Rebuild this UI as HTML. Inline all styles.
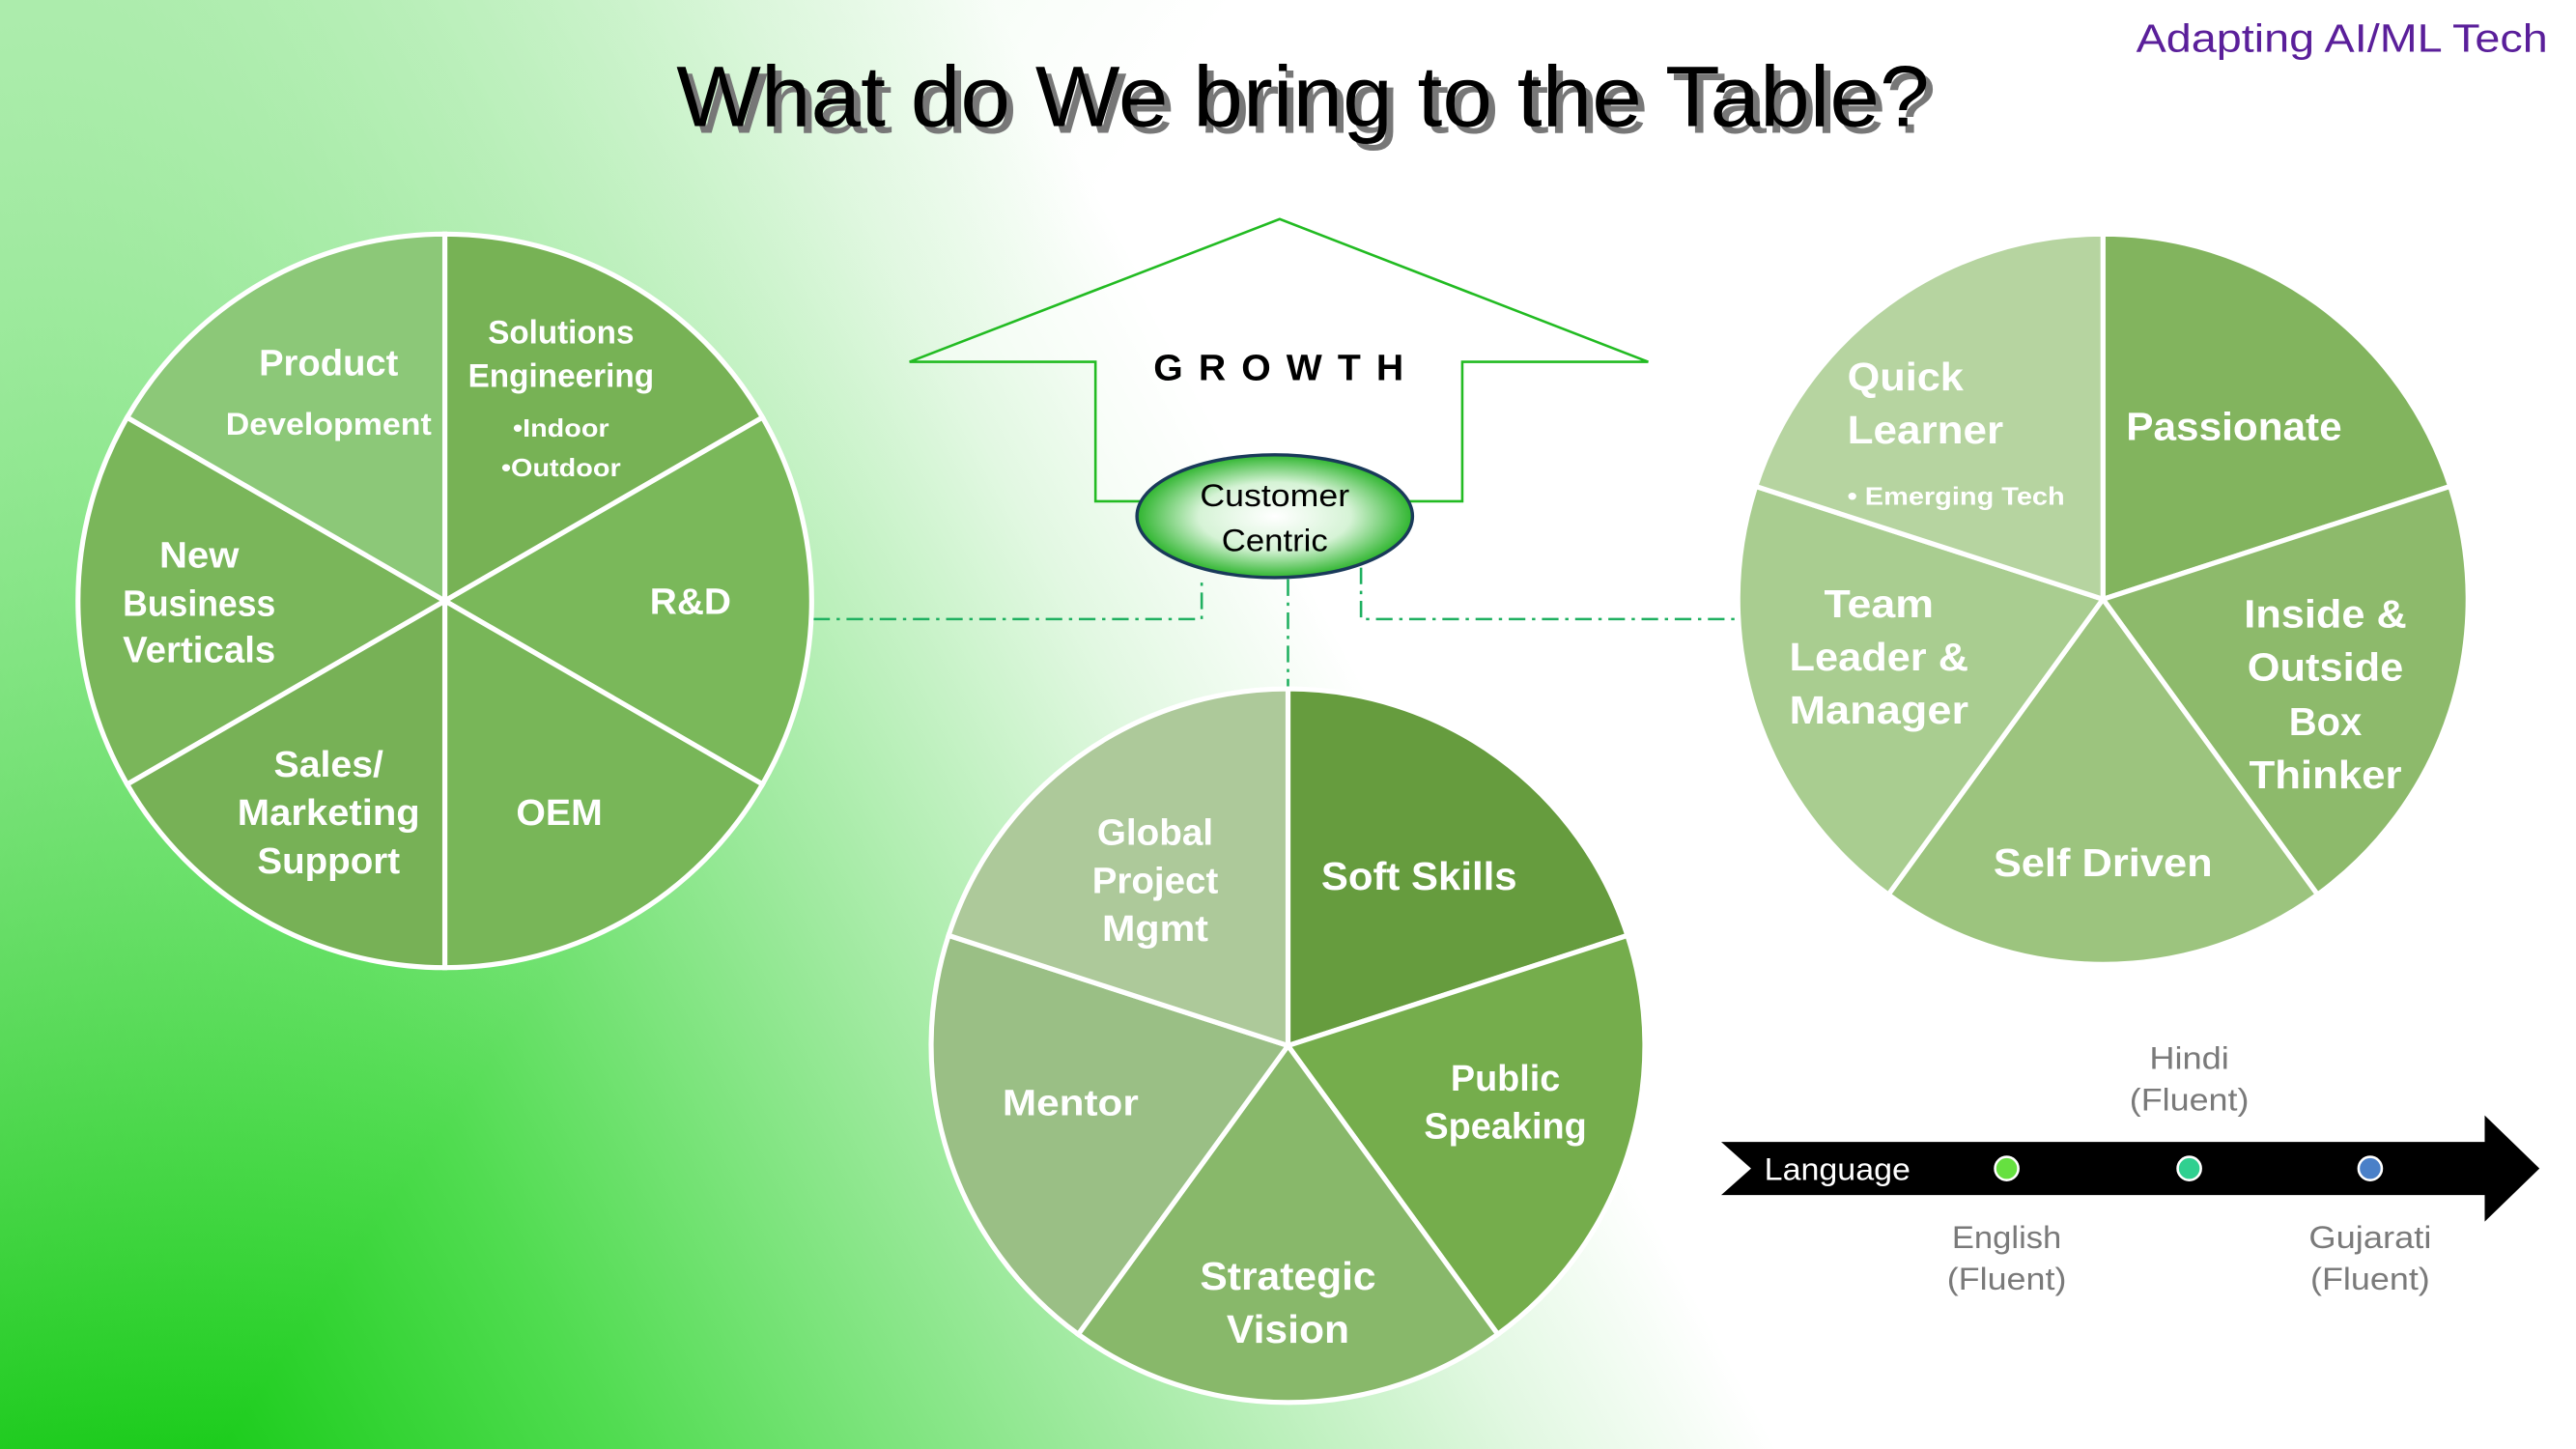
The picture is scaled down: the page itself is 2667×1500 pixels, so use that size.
<!DOCTYPE html>
<html><head><meta charset="utf-8"><style>
html,body{margin:0;padding:0;width:2667px;height:1500px;overflow:hidden}
svg{display:block}
text{font-family:"Liberation Sans",sans-serif}
</style></head><body>
<svg width="2667" height="1500" viewBox="0 0 1552 873" preserveAspectRatio="none" xmlns="http://www.w3.org/2000/svg">
<defs>
<linearGradient id="bg" gradientUnits="userSpaceOnUse" x1="0" y1="873" x2="1150" y2="250">
<stop offset="0" stop-color="#00c400"/>
<stop offset="0.25" stop-color="#50dc50"/>
<stop offset="0.45" stop-color="#a0eaa0"/>
<stop offset="0.62" stop-color="#e2f8e2"/>
<stop offset="0.72" stop-color="#ffffff"/>
<stop offset="1" stop-color="#ffffff"/>
</linearGradient>
<linearGradient id="bg2" gradientUnits="userSpaceOnUse" x1="0" y1="0" x2="500" y2="350">
<stop offset="0" stop-color="#b8eeb8" stop-opacity="0.85"/>
<stop offset="1" stop-color="#d8f6d8" stop-opacity="0"/>
</linearGradient>
<radialGradient id="el" cx="0.5" cy="0.5" r="0.5">
<stop offset="0" stop-color="#ffffff"/>
<stop offset="0.55" stop-color="#d6f3d6"/>
<stop offset="1" stop-color="#2fb52f"/>
</radialGradient>
</defs>
<rect width="1552" height="873" fill="url(#bg)"/>
<rect width="1552" height="873" fill="url(#bg2)"/>

<text x="1535" y="31" text-anchor="end" font-size="24" fill="#5a1f9a" textLength="248" lengthAdjust="spacingAndGlyphs">Adapting AI/ML Tech</text>
<text x="787" y="78" text-anchor="middle" font-size="52" fill="#777" textLength="755" lengthAdjust="spacingAndGlyphs" dx="2" dy="2">What do We bring to the Table?</text>
<text x="785" y="76" text-anchor="middle" font-size="52" fill="#000" textLength="755" lengthAdjust="spacingAndGlyphs">What do We bring to the Table?</text>

<!-- arrow -->
<polygon points="548,218 771,132 993,218 881,218 881,302 660,302 660,218" fill="#ffffff" fill-opacity="0.5" stroke="#22bb22" stroke-width="1.5"/>
<text x="775" y="229" text-anchor="middle" font-size="22" font-weight="bold" fill="#000" letter-spacing="9" textLength="160" lengthAdjust="spacingAndGlyphs">GROWTH</text>

<!-- connectors -->
<g stroke="#1fb060" stroke-width="1.5" fill="none" stroke-dasharray="10,4,2,4">
<polyline points="490,373 724,373 724,349"/>
<polyline points="776,349 776,414"/>
<polyline points="820,342 820,373 1045,373"/>
</g>

<ellipse cx="768" cy="311" rx="83" ry="37" fill="url(#el)" stroke="#1a3a5a" stroke-width="2"/>
<text x="768" y="305" text-anchor="middle" font-size="19" fill="#000" textLength="90" lengthAdjust="spacingAndGlyphs">Customer</text>
<text x="768" y="332" text-anchor="middle" font-size="19" fill="#000" textLength="64" lengthAdjust="spacingAndGlyphs">Centric</text>

<!-- left pie -->
<g stroke="#fff" stroke-width="3">
<path d="M268,362 L268,141 A221,221 0 0 1 459.4,251.5 Z" fill="#77b255"/>
<path d="M268,362 L459.4,251.5 A221,221 0 0 1 459.4,472.5 Z" fill="#7ab85a"/>
<path d="M268,362 L459.4,472.5 A221,221 0 0 1 268,583 Z" fill="#78b658"/>
<path d="M268,362 L268,583 A221,221 0 0 1 76.6,472.5 Z" fill="#77b156"/>
<path d="M268,362 L76.6,472.5 A221,221 0 0 1 76.6,251.5 Z" fill="#7ab65a"/>
<path d="M268,362 L76.6,251.5 A221,221 0 0 1 268,141 Z" fill="#8cc878"/>
</g>
<g fill="#fff" font-weight="bold" text-anchor="middle">
<text x="198" y="226" font-size="22" textLength="84" lengthAdjust="spacingAndGlyphs">Product</text>
<text x="198" y="262" font-size="19" textLength="124" lengthAdjust="spacingAndGlyphs">Development</text>
<text x="338" y="207" font-size="20" textLength="88" lengthAdjust="spacingAndGlyphs">Solutions</text>
<text x="338" y="233" font-size="20" textLength="112" lengthAdjust="spacingAndGlyphs">Engineering</text>
<text x="338" y="263" font-size="15" textLength="58" lengthAdjust="spacingAndGlyphs">•Indoor</text>
<text x="338" y="287" font-size="15" textLength="72" lengthAdjust="spacingAndGlyphs">•Outdoor</text>
<text x="416" y="370" font-size="22" textLength="49" lengthAdjust="spacingAndGlyphs">R&amp;D</text>
<text x="337" y="497" font-size="22" textLength="52" lengthAdjust="spacingAndGlyphs">OEM</text>
<text x="198" y="468" font-size="22" textLength="66" lengthAdjust="spacingAndGlyphs">Sales/</text>
<text x="198" y="497" font-size="22" textLength="110" lengthAdjust="spacingAndGlyphs">Marketing</text>
<text x="198" y="526" font-size="22" textLength="86" lengthAdjust="spacingAndGlyphs">Support</text>
<text x="120" y="342" font-size="22" textLength="48" lengthAdjust="spacingAndGlyphs">New</text>
<text x="120" y="371" font-size="22" textLength="92" lengthAdjust="spacingAndGlyphs">Business</text>
<text x="120" y="399" font-size="22" textLength="92" lengthAdjust="spacingAndGlyphs">Verticals</text>
</g>

<!-- middle pie -->
<g stroke="#fff" stroke-width="3">
<path d="M776,630 L776,415 A215,215 0 0 1 980.5,563.6 Z" fill="#669c3e"/>
<path d="M776,630 L980.5,563.6 A215,215 0 0 1 902.4,803.9 Z" fill="#75ad4c"/>
<path d="M776,630 L902.4,803.9 A215,215 0 0 1 649.6,803.9 Z" fill="#88b86a"/>
<path d="M776,630 L649.6,803.9 A215,215 0 0 1 571.5,563.6 Z" fill="#9abf85"/>
<path d="M776,630 L571.5,563.6 A215,215 0 0 1 776,415 Z" fill="#adc99a"/>
</g>
<g fill="#fff" font-weight="bold" text-anchor="middle">
<text x="696" y="509" font-size="22" textLength="70" lengthAdjust="spacingAndGlyphs">Global</text>
<text x="696" y="538" font-size="22" textLength="76" lengthAdjust="spacingAndGlyphs">Project</text>
<text x="696" y="567" font-size="22" textLength="64" lengthAdjust="spacingAndGlyphs">Mgmt</text>
<text x="855" y="536" font-size="24" textLength="118" lengthAdjust="spacingAndGlyphs">Soft Skills</text>
<text x="907" y="657" font-size="22" textLength="66" lengthAdjust="spacingAndGlyphs">Public</text>
<text x="907" y="686" font-size="22" textLength="98" lengthAdjust="spacingAndGlyphs">Speaking</text>
<text x="776" y="777" font-size="24" textLength="106" lengthAdjust="spacingAndGlyphs">Strategic</text>
<text x="776" y="809" font-size="24" textLength="74" lengthAdjust="spacingAndGlyphs">Vision</text>
<text x="645" y="672" font-size="22" textLength="82" lengthAdjust="spacingAndGlyphs">Mentor</text>
</g>

<!-- right pie -->
<g stroke="#fff" stroke-width="3">
<path d="M1267,361 L1267,141 A220,220 0 0 1 1476.2,293 Z" fill="#82b45e"/>
<path d="M1267,361 L1476.2,293 A220,220 0 0 1 1396.3,539 Z" fill="#8dba6b"/>
<path d="M1267,361 L1396.3,539 A220,220 0 0 1 1137.7,539 Z" fill="#9cc47e"/>
<path d="M1267,361 L1137.7,539 A220,220 0 0 1 1057.8,293 Z" fill="#a9cd90"/>
<path d="M1267,361 L1057.8,293 A220,220 0 0 1 1267,141 Z" fill="#b6d4a0"/>
</g>
<g fill="#fff" font-weight="bold">
<text x="1113" y="235" font-size="24" textLength="70" lengthAdjust="spacingAndGlyphs">Quick</text>
<text x="1113" y="267" font-size="24" textLength="94" lengthAdjust="spacingAndGlyphs">Learner</text>
<text x="1113" y="304" font-size="15" textLength="131" lengthAdjust="spacingAndGlyphs">•  Emerging Tech</text>
<text x="1346" y="265" font-size="24" text-anchor="middle" textLength="130" lengthAdjust="spacingAndGlyphs">Passionate</text>
<g text-anchor="middle" font-size="24">
<text x="1401" y="378" textLength="98" lengthAdjust="spacingAndGlyphs">Inside &amp;</text>
<text x="1401" y="410" textLength="94" lengthAdjust="spacingAndGlyphs">Outside</text>
<text x="1401" y="443" textLength="44" lengthAdjust="spacingAndGlyphs">Box</text>
<text x="1401" y="475" textLength="92" lengthAdjust="spacingAndGlyphs">Thinker</text>
<text x="1267" y="528" textLength="132" lengthAdjust="spacingAndGlyphs">Self Driven</text>
<text x="1132" y="372" textLength="66" lengthAdjust="spacingAndGlyphs">Team</text>
<text x="1132" y="404" textLength="108" lengthAdjust="spacingAndGlyphs">Leader &amp;</text>
<text x="1132" y="436" textLength="108" lengthAdjust="spacingAndGlyphs">Manager</text>
</g>
</g>

<!-- language arrow -->
<polygon points="1037,688 1497,688 1497,672 1530,704 1497,736 1497,720 1037,720 1055,704" fill="#000"/>
<text x="1063" y="711" font-size="19" fill="#fff" textLength="88" lengthAdjust="spacingAndGlyphs">Language</text>
<circle cx="1209" cy="704" r="7" fill="#66e040" stroke="#fff" stroke-width="1.5"/>
<circle cx="1319" cy="704" r="7" fill="#30d090" stroke="#fff" stroke-width="1.5"/>
<circle cx="1428" cy="704" r="7" fill="#4a80c8" stroke="#fff" stroke-width="1.5"/>
<g fill="#7a7a7a" font-size="19" text-anchor="middle">
<text x="1319" y="644" textLength="48" lengthAdjust="spacingAndGlyphs">Hindi</text>
<text x="1319" y="669" textLength="72" lengthAdjust="spacingAndGlyphs">(Fluent)</text>
<text x="1209" y="752" textLength="66" lengthAdjust="spacingAndGlyphs">English</text>
<text x="1209" y="777" textLength="72" lengthAdjust="spacingAndGlyphs">(Fluent)</text>
<text x="1428" y="752" textLength="74" lengthAdjust="spacingAndGlyphs">Gujarati</text>
<text x="1428" y="777" textLength="72" lengthAdjust="spacingAndGlyphs">(Fluent)</text>
</g>
</svg>
</body></html>
